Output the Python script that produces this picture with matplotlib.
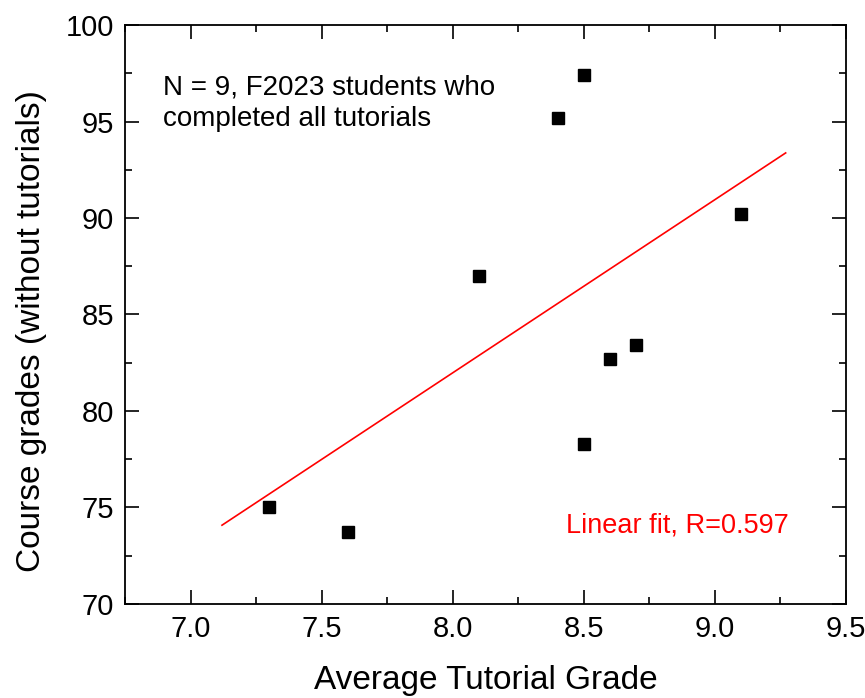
import numpy as np
import matplotlib
matplotlib.use("Agg")
import matplotlib.pyplot as plt
from matplotlib.ticker import MultipleLocator

plt.rcParams["font.family"] = ["Liberation Sans", "DejaVu Sans"]

# --- data ---
tutorial_grade = [7.3, 7.6, 8.1, 8.4, 8.5, 8.5, 8.6, 8.7, 9.1]
course_grade = [75.0, 73.7, 87.0, 95.2, 97.4, 78.3, 82.7, 83.4, 90.2]
fit_range = [7.12, 9.27]

# linear fit
slope, intercept = np.polyfit(tutorial_grade, course_grade, 1)
fit_x = np.array(fit_range)
fit_y = slope * fit_x + intercept

fig = plt.figure(figsize=(8.65, 6.98), dpi=100)
ax = fig.add_axes([0.1445, 0.135, 0.8335, 0.829])

ax.plot(fit_x, fit_y, color="red", linewidth=1.2, zorder=2)
ax.plot(tutorial_grade, course_grade, linestyle="none", marker="s",
        markersize=8, color="black", zorder=3)

ax.set_xlim(6.75, 9.5)
ax.set_ylim(70, 100)
ax.xaxis.set_major_locator(MultipleLocator(0.5))
ax.xaxis.set_minor_locator(MultipleLocator(0.25))
ax.yaxis.set_major_locator(MultipleLocator(5))
ax.yaxis.set_minor_locator(MultipleLocator(2.5))

ax.tick_params(which="both", direction="in", top=True, right=True, width=1.2)
ax.tick_params(which="major", length=10, labelsize=21, pad=8)
ax.tick_params(which="minor", length=5)
for s in ax.spines.values():
    s.set_linewidth(1.3)

ax.set_xlabel("Average Tutorial Grade", fontsize=24, labelpad=16)
ax.set_ylabel("Course grades (without tutorials)", fontsize=24)
ax.yaxis.set_label_coords(-0.108, 0.472)

ax.text(0.053, 0.915, "N = 9, F2023 students who\ncompleted all tutorials",
        transform=ax.transAxes, fontsize=20, va="top", ha="left", linespacing=1.3)
ax.text(0.611, 0.136, "Linear fit, R=0.597", transform=ax.transAxes,
        fontsize=19.5, color="red", va="center", ha="left")

fig.savefig("out.png", dpi=100)
